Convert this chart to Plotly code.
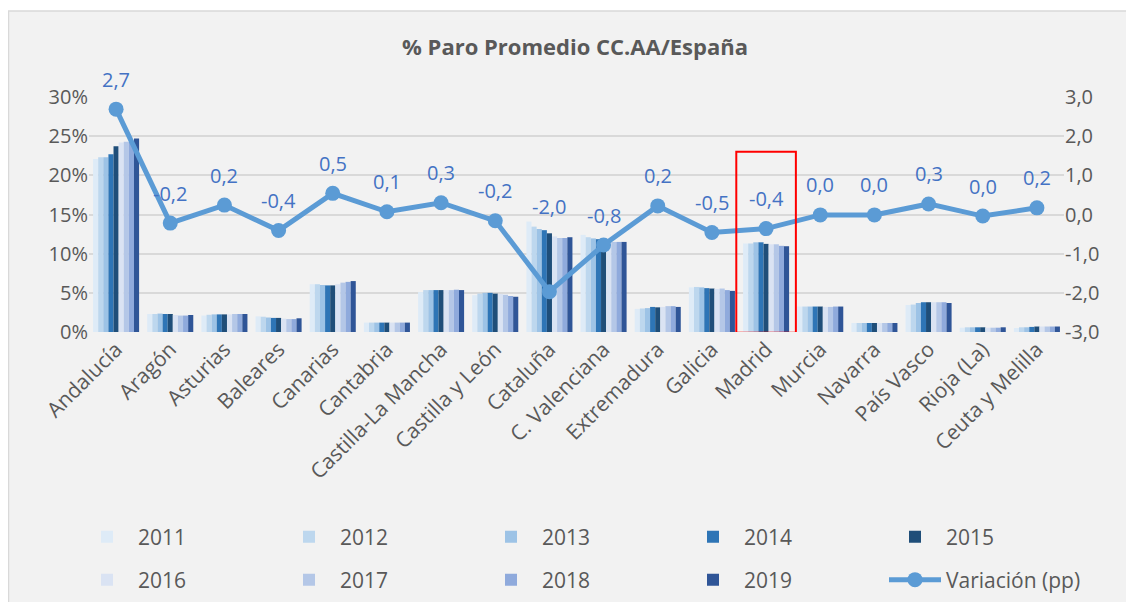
import plotly.graph_objects as go

regions = ["Andalucía", "Aragón", "Asturias", "Baleares", "Canarias", "Cantabria",
           "Castilla-La Mancha", "Castilla y León", "Cataluña", "C. Valenciana",
           "Extremadura", "Galicia", "Madrid", "Murcia", "Navarra", "País Vasco",
           "Rioja (La)", "Ceuta y Melilla"]

years = ["2011", "2012", "2013", "2014", "2015", "2016", "2017", "2018", "2019"]

# % share of national unemployment (in %)
y2011 = [22.1, 2.3, 2.1, 2.0, 6.1, 1.2, 5.1, 4.7, 14.1, 12.4, 2.95, 5.7, 11.3, 3.25, 1.15, 3.45, 0.55, 0.5]
y2012 = [22.3, 2.3, 2.2, 1.95, 6.1, 1.2, 5.35, 4.9, 13.45, 12.1, 3.0, 5.75, 11.3, 3.25, 1.15, 3.5, 0.6, 0.6]
y2013 = [22.3, 2.35, 2.25, 1.85, 6.0, 1.2, 5.35, 5.0, 13.15, 11.95, 3.05, 5.7, 11.45, 3.25, 1.15, 3.7, 0.6, 0.6]
y2014 = [22.7, 2.3, 2.25, 1.8, 5.95, 1.2, 5.35, 5.0, 13.0, 11.85, 3.2, 5.6, 11.45, 3.25, 1.15, 3.8, 0.6, 0.65]
y2015 = [23.7, 2.3, 2.25, 1.8, 5.95, 1.2, 5.35, 4.9, 12.6, 11.7, 3.15, 5.55, 11.25, 3.25, 1.15, 3.8, 0.6, 0.7]
y2016 = [24.2, 2.17, 2.25, 1.7, 6.1, 1.2, 5.35, 4.85, 12.2, 11.5, 3.2, 5.5, 11.2, 3.2, 1.15, 3.8, 0.55, 0.7]
y2017 = [24.3, 2.1, 2.3, 1.65, 6.3, 1.2, 5.35, 4.75, 12.0, 11.5, 3.3, 5.55, 11.2, 3.2, 1.15, 3.8, 0.55, 0.7]
y2018 = [24.3, 2.1, 2.3, 1.65, 6.4, 1.2, 5.4, 4.6, 12.0, 11.5, 3.3, 5.35, 11.0, 3.25, 1.15, 3.8, 0.55, 0.7]
y2019 = [24.7, 2.17, 2.3, 1.75, 6.5, 1.2, 5.35, 4.5, 12.1, 11.5, 3.2, 5.25, 10.95, 3.25, 1.15, 3.7, 0.6, 0.7]

variacion = [2.69, -0.22, 0.24, -0.41, 0.54, 0.07, 0.30, -0.16, -1.97, -0.78, 0.22,
             -0.46, -0.36, -0.01, -0.01, 0.27, -0.04, 0.17]

year_colors = ["#DEEBF7", "#BDD7EE", "#9DC3E6", "#2E75B6", "#1F4E79",
               "#DAE3F3", "#B4C7E7", "#8FAADC", "#2F5597"]

left_ticks = [0, 0.05, 0.10, 0.15, 0.20, 0.25, 0.30]
right_ticks = [-3, -2, -1, 0, 1, 2, 3]

series = [y2011, y2012, y2013, y2014, y2015, y2016, y2017, y2018, y2019]

FONT = "Open Sans"
GREY = "#595959"
LABEL_SHIFT = 30
LABEL_SHIFT_SPECIAL = {"Cataluña": 85}   # label moved up by hand in the original


def es_num(v, dec=1):
    v = round(v, dec) + 0.0
    return f"{v:.{dec}f}".replace(".", ",")


fig = go.Figure()
for i, (name, vals, col) in enumerate(zip(years, series, year_colors)):
    fig.add_trace(go.Bar(
        x=regions, y=[v / 100 for v in vals], name=name,
        marker=dict(color=col, line=dict(width=0)),
        yaxis="y", legend="legend" if i < 5 else "legend2",
    ))

fig.add_trace(go.Scatter(
    x=regions, y=variacion, name="Variación (pp)", yaxis="y2",
    mode="lines+markers", legend="legend2",
    line=dict(color="#5B9BD5", width=5),
    marker=dict(color="#5B9BD5", size=15),
    cliponaxis=False,
))

annotations = [
    dict(x=r, y=v, xref="x", yref="y2", text=es_num(v), showarrow=False,
         yshift=LABEL_SHIFT_SPECIAL.get(r, LABEL_SHIFT), yanchor="middle",
         font=dict(family=FONT, size=20, color="#4472C4"))
    for r, v in zip(regions, variacion)
]

# page body adds an 8px offset; all pixel positions below are in figure coords
OFF = 8
W, H = 1134 - 2 * OFF, 610 - 2 * OFF
L, T = 89 - OFF, 97 - OFF
R = W - (1064 - OFF)
B = H - (332 - OFF)
pw, ph = W - L - R, H - T - B


def px_x(p):
    return (p - OFF - L) / pw


def px_y(p):
    return (H - B - (p - OFF)) / ph


shapes = [
    dict(type="rect", xref="paper", yref="paper", layer="below",
         x0=px_x(8.5), x1=px_x(1140), y0=px_y(620), y1=px_y(11),
         fillcolor="#F2F2F2", line=dict(color="#D9D9D9", width=1.5)),
]
mi = regions.index("Madrid")
shapes.append(dict(type="rect", xref="x", yref="y",
                   x0=mi - 0.55, x1=mi + 0.55, y0=-0.001, y1=0.23,
                   line=dict(color="#FF0000", width=2), fillcolor="rgba(0,0,0,0)"))

leg_common = dict(orientation="h", xanchor="left", yanchor="middle",
                  entrywidth=135, entrywidthmode="pixels", itemwidth=52,
                  font=dict(family=FONT, size=21, color=GREY), bgcolor="rgba(0,0,0,0)",
                  traceorder="normal", tracegroupgap=0)

fig.update_layout(
    width=W, height=H,
    margin=dict(l=L, r=R, t=T, b=B, autoexpand=False),
    paper_bgcolor="white",
    plot_bgcolor="rgba(0,0,0,0)",
    font=dict(family=FONT, size=20, color=GREY),
    separators=",.",
    title=dict(text="<b>% Paro Promedio CC.AA/España</b>", x=(575 - OFF) / W, xanchor="center",
               xref="container", y=1 - (47 - OFF) / H, yanchor="middle", yref="container",
               font=dict(family=FONT, size=22, color=GREY)),
    barmode="group", bargap=0.15, bargroupgap=0,
    xaxis=dict(type="category", range=[-0.5, len(regions) - 0.5], tickangle=-45,
               showgrid=False, showline=False, ticks="",
               tickfont=dict(size=21, color=GREY)),
    yaxis=dict(range=[0, 0.3], tickvals=left_ticks, tickformat=".0%",
               showgrid=True, gridcolor="#D9D9D9", gridwidth=1.5, zeroline=False,
               showline=False, ticks="", tickfont=dict(size=20, color=GREY)),
    yaxis2=dict(range=[-3, 3], overlaying="y", side="right", tickvals=right_ticks,
                ticktext=[es_num(v) for v in right_ticks], showgrid=False,
                zeroline=False, showline=False, ticks="",
                tickfont=dict(size=20, color=GREY)),
    legend=dict(x=px_x(76), y=px_y(537), **leg_common),
    legend2=dict(x=px_x(76), y=px_y(580), **leg_common),
    shapes=shapes,
    annotations=annotations,
)

fig.write_html("out.html")
